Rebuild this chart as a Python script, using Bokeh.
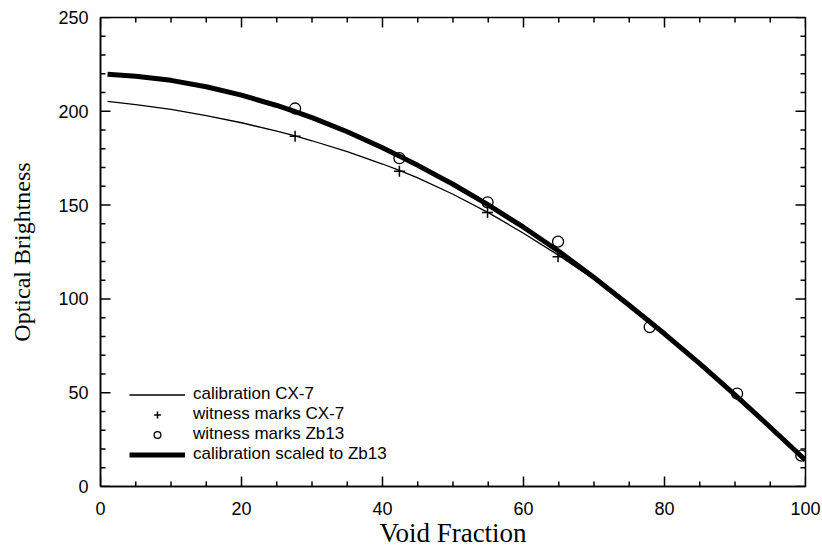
from bokeh.plotting import figure
from bokeh.models import Range1d, SingleIntervalTicker, Legend, LegendItem
from bokeh.embed import file_html
from bokeh.resources import INLINE

# ---- data ----
curve_x = [1, 5, 10, 15, 20, 25, 27.6, 30, 35, 40, 42.4, 45, 50, 55, 60, 65, 70, 75, 80, 85, 90, 95, 100]
cal_cx7_y = [205.3, 203.6, 201.0, 197.7, 193.9, 189.4, 186.9, 184.3, 178.5, 171.9, 168.5, 164.5,
             155.8, 146.0, 135.0, 123.2, 110.5, 96.6, 81.4, 65.5, 48.9, 31.6, 14.0]
cal_zb13_y = [219.7, 218.7, 216.5, 213.1, 208.6, 203.1, 199.8, 196.6, 189.1, 180.6, 176.1, 171.2,
              161.1, 150.1, 138.2, 125.4, 111.4, 96.6, 81.4, 65.5, 48.9, 31.6, 14.0]

marks_cx7_x = [27.6, 42.4, 54.9, 64.9]
marks_cx7_y = [186.7, 168.0, 146.0, 122.5]
marks_zb13_x = [27.6, 42.4, 54.9, 64.9, 77.9, 90.3, 99.4]
marks_zb13_y = [201.5, 175.0, 151.5, 130.5, 85.0, 49.5, 16.5]

x_major_ticks = [0, 20, 40, 60, 80, 100]
x_minor_ticks = [5, 10, 15, 25, 30, 35, 45, 50, 55, 65, 70, 75, 85, 90, 95]
y_major_ticks = [0, 50, 100, 150, 200, 250]
y_minor_ticks = [10, 20, 30, 40, 60, 70, 80, 90, 110, 120, 130, 140, 160, 170, 180, 190,
                 210, 220, 230, 240]

SANS = "Liberation Sans"
SERIF = "Liberation Serif"

X0, X1, Y0, Y1 = 0, 100, 0, 250
FRAME_W, FRAME_H = 705, 470          # frame size in pixels
MAJOR_PX, MINOR_PX = 10, 5           # inward tick lengths in pixels

p = figure(width=822, height=550, x_range=Range1d(X0, X1), y_range=Range1d(Y0, Y1),
           output_backend="svg", toolbar_location=None,
           min_border_left=100, min_border_right=17, min_border_top=17, min_border_bottom=63)
p.xgrid.visible = False
p.ygrid.visible = False
p.outline_line_color = "black"
p.outline_line_width = 1.5
p.background_fill_color = "white"
p.border_fill_color = "white"

p.xaxis.ticker = SingleIntervalTicker(interval=20)
p.yaxis.ticker = SingleIntervalTicker(interval=50)
for ax in (p.xaxis[0], p.yaxis[0]):
    ax.axis_line_color = "black"
    ax.axis_line_width = 1.5
    ax.major_tick_in = 0
    ax.major_tick_out = 0
    ax.minor_tick_in = 0
    ax.minor_tick_out = 0
    ax.major_tick_line_color = None
    ax.minor_tick_line_color = None
    ax.major_label_text_font = SANS
    ax.major_label_text_color = "black"
    ax.major_label_text_font_size = "18px"
    ax.axis_label_text_font = SERIF
    ax.axis_label_text_font_style = "normal"
    ax.axis_label_text_color = "black"

p.xaxis.axis_label = "Void Fraction"
p.xaxis.axis_label_text_font_size = "27px"
p.xaxis.major_label_standoff = 15
p.xaxis.axis_label_standoff = 0
p.yaxis.axis_label = "Optical Brightness"
p.yaxis.axis_label_text_font_size = "24px"
p.yaxis.major_label_standoff = 12
p.yaxis.axis_label_standoff = 20

# inward tick marks on all four sides, drawn as short segments from the frame edges
dy_major = (Y1 - Y0) * MAJOR_PX / FRAME_H
dy_minor = (Y1 - Y0) * MINOR_PX / FRAME_H
dx_major = (X1 - X0) * MAJOR_PX / FRAME_W
dx_minor = (X1 - X0) * MINOR_PX / FRAME_W
tk = dict(line_color="black", line_width=1.5)

def vticks(xs, y_edge, d):
    p.segment(x0=xs, y0=[y_edge] * len(xs), x1=xs, y1=[y_edge + d] * len(xs), **tk)

def hticks(ys, x_edge, d):
    p.segment(x0=[x_edge] * len(ys), y0=ys, x1=[x_edge + d] * len(ys), y1=ys, **tk)

vticks(x_major_ticks, Y0, dy_major)
vticks(x_major_ticks, Y1, -dy_major)
vticks(x_minor_ticks, Y0, dy_minor)
vticks(x_minor_ticks, Y1, -dy_minor)
hticks(y_major_ticks, X0, dx_major)
hticks(y_major_ticks, X1, -dx_major)
hticks(y_minor_ticks, X0, dx_minor)
hticks(y_minor_ticks, X1, -dx_minor)

thin = p.line(curve_x, cal_cx7_y, line_color="black", line_width=1.3)
thick = p.line(curve_x, cal_zb13_y, line_color="black", line_width=5, line_join="round")
crosses = p.scatter(marks_cx7_x, marks_cx7_y, marker="cross", size=11, line_color="black", line_width=1.5)
circles = p.scatter(marks_zb13_x, marks_zb13_y, marker="circle", size=11, fill_color=None,
                    line_color="black", line_width=1.3)

legend = Legend(items=[
    LegendItem(label="calibration CX-7", renderers=[thin]),
    LegendItem(label="witness marks CX-7", renderers=[crosses]),
    LegendItem(label="witness marks Zb13", renderers=[circles]),
    LegendItem(label="calibration scaled to Zb13", renderers=[thick]),
], location=(29, 22), padding=0, margin=0, spacing=0, glyph_width=56, glyph_height=17,
    label_height=17, label_standoff=8, label_text_font=SANS, label_text_font_size="17px",
    label_text_color="black", border_line_color=None, background_fill_alpha=0)
p.add_layout(legend)

open("out.html", "w").write(file_html(p, INLINE))
